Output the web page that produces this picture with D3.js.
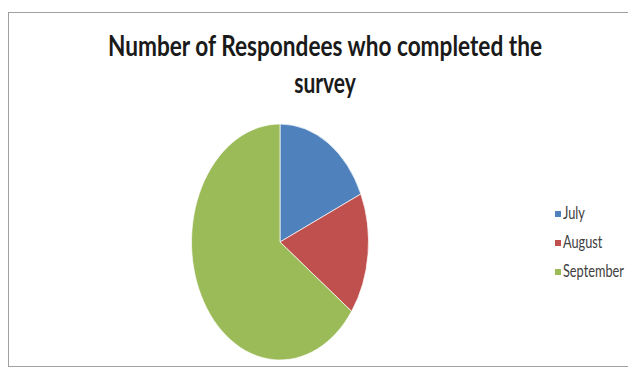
<!DOCTYPE html>
<html>
<head>
<meta charset="utf-8">
<script src="https://cdn.jsdelivr.net/npm/d3@7"></script>
<style>
  html, body { margin: 0; padding: 0; background: #ffffff; }
  svg { display: block; }
</style>
</head>
<body>
<script>
// Survey completions per month
const months = ["July", "August", "September"];
const respondees = [11, 10, 39];
const sliceColors = ["#4F81BD", "#C0504D", "#9BBB59"];
const titleLines = ["Number of Respondees who completed the", "survey"];

const width = 628, height = 372;
// the chart area is drawn horizontally condensed
const sx = 0.75;

const svg = d3.select("body").append("svg")
  .attr("width", width)
  .attr("height", height);

svg.append("rect").attr("width", width).attr("height", height).attr("fill", "#ffffff");

// chart frame (open on the right)
svg.append("rect")
  .attr("x", 8.5).attr("y", 12.5)
  .attr("width", 700).attr("height", 354)
  .attr("fill", "none")
  .attr("stroke", "#a0a0a0")
  .attr("stroke-width", 1);

const g = svg.append("g").attr("transform", `scale(${sx},1)`);

// title
g.selectAll("text.title")
  .data(titleLines)
  .join("text")
  .attr("class", "title")
  .attr("x", 325 / sx)
  .attr("y", (d, i) => 56 + i * 37)
  .attr("text-anchor", "middle")
  .attr("font-family", "Lato, 'Open Sans', sans-serif")
  .attr("font-weight", "bold")
  .attr("font-size", 28)
  .attr("fill", "#1a1a1a")
  .each(function (d, i) {
    if (i === 0) d3.select(this).attr("textLength", 434 / sx).attr("lengthAdjust", "spacingAndGlyphs");
  })
  .text(d => d);

// pie
const color = d3.scaleOrdinal().domain(months).range(sliceColors);
const pie = d3.pie().sort(null).value(d => d.value);
const radius = 118;
const arc = d3.arc().innerRadius(0).outerRadius(radius);

const data = months.map((m, i) => ({ month: m, value: respondees[i] }));

g.append("g")
  .attr("transform", `translate(${280 / sx},242)`)
  .selectAll("path")
  .data(pie(data))
  .join("path")
  .attr("d", arc)
  .attr("fill", d => color(d.data.month))
  .attr("stroke", "#ffffff")
  .attr("stroke-width", 0.8);

// legend
const legend = g.append("g")
  .selectAll("g")
  .data(months)
  .join("g")
  .attr("transform", (d, i) => `translate(${555 / sx},${211 + i * 29})`);

legend.append("rect")
  .attr("width", 6 / sx)
  .attr("height", 6)
  .attr("fill", d => color(d));

legend.append("text")
  .attr("x", 8 / sx)
  .attr("y", 8)
  .attr("font-family", "Lato, 'Open Sans', sans-serif")
  .attr("font-size", 17)
  .attr("fill", "#404040")
  .text(d => d);
</script>
</body>
</html>
